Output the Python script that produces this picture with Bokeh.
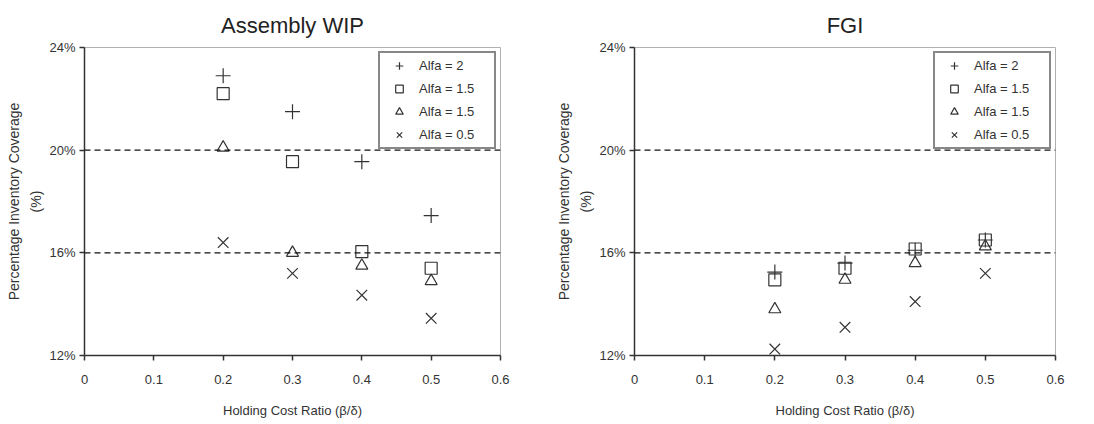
from bokeh.plotting import figure
from bokeh.layouts import row
from bokeh.models import Span, FixedTicker, Legend, LegendItem
from bokeh.embed import file_html
from bokeh.resources import INLINE

x_vals = [0.2, 0.3, 0.4, 0.5]
series_labels = ["Alfa = 2", "Alfa = 1.5", "Alfa = 1.5", "Alfa = 0.5"]
markers = ["cross", "square", "triangle", "x"]

wip_alfa2 = [22.9, 21.5, 19.55, 17.45]
wip_alfa15a = [22.2, 19.55, 16.05, 15.4]
wip_alfa15b = [20.1, 16.0, 15.5, 14.9]
wip_alfa05 = [16.4, 15.2, 14.35, 13.45]

fgi_alfa2 = [15.25, 15.6, 16.1, 16.5]
fgi_alfa15a = [14.95, 15.4, 16.15, 16.5]
fgi_alfa15b = [13.8, 14.95, 15.6, 16.25]
fgi_alfa05 = [12.25, 13.1, 14.1, 15.2]

x_ticks = [0, 0.1, 0.2, 0.3, 0.4, 0.5, 0.6]
x_tick_labels = ["0", "0.1", "0.2", "0.3", "0.4", "0.5", "0.6"]
y_ticks = [12, 16, 20, 24]
y_tick_labels = ["12%", "16%", "20%", "24%"]
ref_lines = [16, 20]

FONT = "Liberation Sans"
DARK = "#333333"


def make(title, series, bl, br, width):
    p = figure(width=width, height=420, x_range=(0, 0.6), y_range=(12, 24),
               output_backend="svg", toolbar_location=None,
               min_border_left=bl, min_border_right=br,
               min_border_top=46, min_border_bottom=10)
    p.title.text = title
    p.title.align = "center"
    p.title.text_font = FONT
    p.title.text_font_size = "22px"
    p.title.text_font_style = "normal"
    p.title.text_color = "#222222"
    p.title.standoff = 20
    p.grid.visible = False
    p.outline_line_color = "#b0b0b0"
    p.background_fill_color = "white"
    p.border_fill_color = "white"

    for ax in (p.xaxis[0], p.yaxis[0]):
        ax.axis_line_color = DARK
        ax.axis_line_width = 1.5
        ax.major_tick_line_color = DARK
        ax.major_tick_line_width = 1.5
        ax.major_tick_out = 5
        ax.major_tick_in = 0
        ax.minor_tick_line_color = None
        ax.major_label_text_font = FONT
        ax.major_label_text_font_size = "13px"
        ax.major_label_text_color = DARK
        ax.axis_label_text_font = FONT
        ax.axis_label_text_font_style = "normal"
        ax.axis_label_text_color = DARK

    p.xaxis.ticker = FixedTicker(ticks=x_ticks)
    p.xaxis.major_label_overrides = dict(zip(x_ticks, x_tick_labels))
    p.xaxis.axis_label = "Holding Cost Ratio (β/δ)"
    p.xaxis.axis_label_text_font_size = "13px"
    p.xaxis.major_label_standoff = 14
    p.xaxis.axis_label_standoff = 16
    p.yaxis.ticker = FixedTicker(ticks=y_ticks)
    p.yaxis.major_label_overrides = dict(zip(y_ticks, y_tick_labels))
    p.yaxis.axis_label = "Percentage Inventory Coverage\n(%)"
    p.yaxis.axis_label_text_font_size = "14px"
    p.yaxis.axis_label_text_line_height = 1.4
    p.yaxis.major_label_standoff = 4
    p.yaxis.axis_label_standoff = 2

    for yv in ref_lines:
        p.add_layout(Span(location=yv, dimension="width", line_color="#111111",
                          line_dash="6 4", line_width=1.2))

    items = []
    for ys, mk, lab in zip(series, markers, series_labels):
        r = p.scatter(x_vals, ys, marker=mk, size=15 if mk in ("cross", "x") else 12,
                      line_color=DARK, fill_color=None, line_width=1.2)
        items.append(LegendItem(label=lab, renderers=[r]))
    leg = Legend(items=items, location="top_right", margin=4, padding=3,
                 spacing=4, label_standoff=4, glyph_width=32, glyph_height=19,
                 label_width=72,
                 label_text_font=FONT, label_text_font_size="13px",
                 label_text_color=DARK, border_line_color="#111111",
                 border_line_width=2, background_fill_color="white",
                 background_fill_alpha=1.0)
    p.add_layout(leg)
    return p


p1 = make("Assembly WIP", [wip_alfa2, wip_alfa15a, wip_alfa15b, wip_alfa05], 84, 47, 547)
p2 = make("FGI", [fgi_alfa2, fgi_alfa15a, fgi_alfa15b, fgi_alfa05], 87, 31, 539)

layout = row(p1, p2)
open("out.html", "w").write(file_html(layout, INLINE))
